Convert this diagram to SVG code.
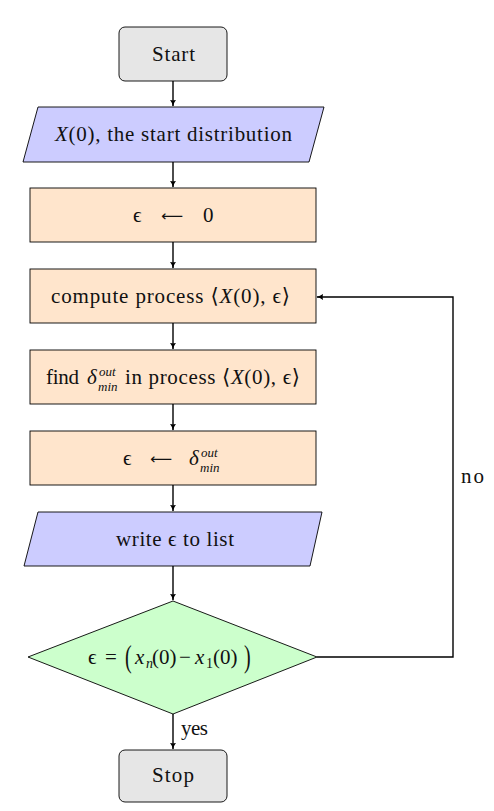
<svg xmlns="http://www.w3.org/2000/svg" width="494" height="811" viewBox="0 0 494 811">
<style>
.n{stroke:#000;stroke-width:0.9}
.term{fill:#e6e6e6}
.io{fill:#ccccff}
.proc{fill:#ffe5cc}
.dec{fill:#ccffcc}
.t{font-family:"Liberation Serif","DejaVu Serif",serif;font-size:21px;fill:#111}
.m{font-family:"Liberation Serif","DejaVu Serif",serif;font-size:21px;font-style:italic;fill:#111}
.s{font-family:"Liberation Serif","DejaVu Serif",serif;font-size:13px;font-style:italic;fill:#111}
.ar{font-family:"DejaVu Sans",sans-serif;font-size:15px;fill:#111}
.p{font-family:"Liberation Serif","DejaVu Serif",serif;font-size:25px;fill:#111}
.c{fill:none;stroke:#000;stroke-width:1.4}
</style>
<defs>
<marker id="ah" viewBox="0 0 10 10" refX="9" refY="5" markerWidth="7" markerHeight="7" markerUnits="userSpaceOnUse" orient="auto">
<path d="M0,0.5 Q4,4 10,5 Q4,6 0,9.5 Q2,5 0,0.5 Z" fill="#000"/>
</marker>
</defs>
<g id="connectors">
<line class="c" x1="173" y1="81" x2="173" y2="106" marker-end="url(#ah)"/>
<line class="c" x1="173" y1="162" x2="173" y2="187" marker-end="url(#ah)"/>
<line class="c" x1="173" y1="242" x2="173" y2="268" marker-end="url(#ah)"/>
<line class="c" x1="173" y1="323" x2="173" y2="349" marker-end="url(#ah)"/>
<line class="c" x1="173" y1="404" x2="173" y2="430" marker-end="url(#ah)"/>
<line class="c" x1="173" y1="485" x2="173" y2="511" marker-end="url(#ah)"/>
<line class="c" x1="173" y1="566" x2="173" y2="600" marker-end="url(#ah)"/>
<line class="c" x1="173" y1="714" x2="173" y2="749" marker-end="url(#ah)"/>
<polyline class="c" points="317,657 453,657 453,297 317,297" marker-end="url(#ah)"/>
<text class="t" x="181" y="735" textLength="27">yes</text>
<text class="t" x="461" y="483" textLength="23">no</text>
</g>
<g id="start">
<rect class="n term" x="119" y="27" width="108" height="54" rx="6"/>
<text class="t" x="152" y="61" textLength="43">Start</text>
</g>
<g id="input">
<polygon class="n io" points="38,107 324,107 309,162 23,162"/>
<text class="t" x="55" y="141" textLength="237"><tspan font-style="italic">X</tspan>(0), the start distribution</text>
</g>
<g id="init">
<rect class="n proc" x="30" y="188" width="286" height="54"/>
<text class="t" x="133" y="222">ϵ</text>
<text class="ar" x="161" y="221" textLength="22" lengthAdjust="spacingAndGlyphs">⟵</text>
<text class="t" x="203" y="222">0</text>
</g>
<g id="compute">
<rect class="n proc" x="30" y="269" width="286" height="54"/>
<text class="t" x="51" y="303" textLength="239">compute process ⟨<tspan font-style="italic">X</tspan>(0), ϵ⟩</text>
</g>
<g id="find">
<rect class="n proc" x="30" y="350" width="286" height="54"/>
<text class="t" x="46" y="384" textLength="33">find</text>
<text class="m" x="87" y="384">δ<tspan class="s" x="99" y="376">out</tspan><tspan class="s" x="98" y="391">min</tspan></text>
<text class="t" x="125" y="384" textLength="175">in process ⟨<tspan font-style="italic">X</tspan>(0), ϵ⟩</text>
</g>
<g id="update">
<rect class="n proc" x="30" y="431" width="286" height="54"/>
<text class="t" x="123" y="465">ϵ</text>
<text class="ar" x="150" y="464" textLength="22" lengthAdjust="spacingAndGlyphs">⟵</text>
<text class="m" x="189" y="465">δ<tspan class="s" x="201" y="457">out</tspan><tspan class="s" x="200" y="472">min</tspan></text>
</g>
<g id="write">
<polygon class="n io" points="38,512 322,512 310,566 24,566"/>
<text class="t" x="116" y="546" textLength="118">write ϵ to list</text>
</g>
<g id="decision">
<polygon class="n dec" points="173,601 317,657 173,714 28,657"/>
<text class="t" x="88" y="664">ϵ</text>
<text class="t" x="105" y="664">=</text>
<text class="p" transform="translate(125,667) scale(0.8,1.25)">(</text>
<text class="m" x="135" y="664">x</text>
<text class="s" x="146" y="668" style="font-size:14px">n</text>
<text class="t" x="152" y="664">(0)</text>
<text class="t" x="179" y="664">−</text>
<text class="m" x="195" y="664">x</text>
<text class="s" x="206" y="668" style="font-size:14px;font-style:normal">1</text>
<text class="t" x="213" y="664">(0)</text>
<text class="p" transform="translate(244,667) scale(0.8,1.25)">)</text>
</g>
<g id="stop">
<rect class="n term" x="119" y="750" width="108" height="52" rx="6"/>
<text class="t" x="152" y="782" textLength="42">Stop</text>
</g>
</svg>
